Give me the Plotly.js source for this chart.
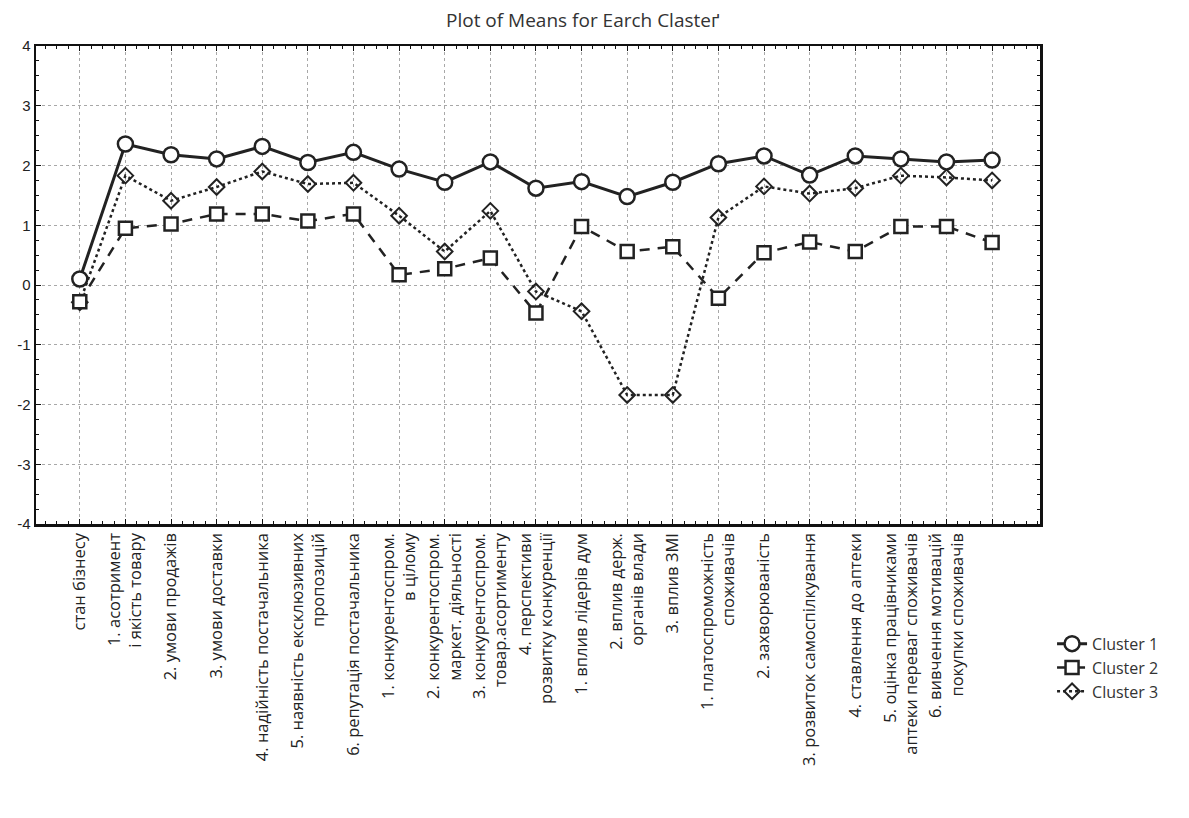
<!DOCTYPE html>
<html>
<head>
<meta charset="utf-8">
<script src="https://cdn.plot.ly/plotly-3.0.1.min.js"></script>
<style>html,body{margin:0;padding:0;background:#fff;}#chart{width:1189px;height:818px;}</style>
</head>
<body>
<div id="chart"></div>
<script>
const categories = [
  "стан бізнесу",
  "1. асотримент<br>і якість товару",
  "2. умови продажів",
  "3. умови доставки",
  "4. надійність постачальника",
  "5. наявність ексклюзивних<br>пропозицій",
  "6. репутація постачальника",
  "1. конкурентоспром.<br>в цілому",
  "2. конкурентоспром.<br>маркет. діяльності",
  "3. конкурентоспром.<br>товар.асортименту",
  "4. перспективи<br>розвитку конкуренції",
  "1. вплив лідерів дум",
  "2. вплив держ.<br>органів влади",
  "3. вплив ЗМІ",
  "1. платоспроможність<br>споживачів",
  "2. захворюваність",
  "3. розвиток самоспілкування",
  "4. ставлення до аптеки",
  "5. оцінка працівниками<br>аптеки переваг споживачів",
  "6. вивчення мотивацій<br>покупки споживачів",
  ""
];
const positions = [0,1,2,3,4,5,6,7,8,9,10,11,12,13,14,15,16,17,18,19,20];
const cluster1 = [0.10, 2.36, 2.18, 2.11, 2.32, 2.05, 2.22, 1.94, 1.72, 2.06, 1.62, 1.73, 1.48, 1.72, 2.03, 2.16, 1.84, 2.16, 2.11, 2.06, 2.09];
const cluster2 = [-0.28, 0.95, 1.02, 1.19, 1.19, 1.07, 1.19, 0.17, 0.27, 0.45, -0.47, 0.98, 0.56, 0.64, -0.22, 0.54, 0.72, 0.56, 0.98, 0.98, 0.71];
const cluster3 = [-0.29, 1.83, 1.41, 1.64, 1.90, 1.69, 1.71, 1.16, 0.56, 1.24, -0.11, -0.44, -1.84, -1.84, 1.13, 1.65, 1.53, 1.62, 1.83, 1.80, 1.75];
const seriesNames = ["Cluster 1", "Cluster 2", "Cluster 3"];
const yTickVals = [-4,-3,-2,-1,0,1,2,3,4];
const yTickText = ["-4","-3","-2","-1","0","1","2","3","4"];

const traces = [
  {x: positions, y: cluster3, name: seriesNames[2], type: 'scatter', mode: 'lines+markers',
   line: {color: '#222', width: 2.5, dash: 'dot'},
   marker: {symbol: 'diamond-open', size: 12, color: '#222', line: {width: 2}}},
  {x: positions, y: cluster2, name: seriesNames[1], type: 'scatter', mode: 'lines+markers',
   line: {color: '#222', width: 2.5, dash: '10px,8px'},
   marker: {symbol: 'square', size: 13, color: '#fff', line: {width: 2.5, color: '#222'}}},
  {x: positions, y: cluster1, name: seriesNames[0], type: 'scatter', mode: 'lines+markers',
   line: {color: '#222', width: 3},
   marker: {symbol: 'circle', size: 15, color: '#fff', line: {width: 2.5, color: '#222'}}}
];

const layout = {
  width: 1189, height: 818,
  paper_bgcolor: '#fff', plot_bgcolor: '#fff',
  margin: {l: 36, r: 149, t: 46, b: 294},
  title: {text: 'Plot of Means for Earch Clasteґ', x: 0.49, xref: 'container', y: 0.975, yanchor: 'middle',
          font: {family: 'Open Sans', size: 19, color: '#333'}},
  showlegend: true,
  legend: {x: 1.012, y: -0.215, xanchor: 'left', yanchor: 'top', traceorder: 'reversed',
           font: {family: 'Open Sans', size: 16, color: '#333'}, bgcolor: 'rgba(0,0,0,0)',
           tracegroupgap: 0, itemwidth: 30},
  xaxis: {
    range: [-0.96, 21.05], tickmode: 'array', tickvals: positions, ticktext: categories,
    tickangle: -90, tickfont: {family: 'Open Sans', size: 16.5, color: '#222'},
    showgrid: true, gridcolor: '#a8a8a8', griddash: 'dot', gridwidth: 1,
    zeroline: false, showline: true, linecolor: '#111', linewidth: 2.5, mirror: 'allticks',
    ticks: 'inside', ticklen: 5, tickcolor: '#111',
    minor: {tickmode: 'linear', tick0: 0, dtick: 0.25, ticks: 'inside', ticklen: 3, tickcolor: '#111', showgrid: false}
  },
  yaxis: {
    range: [-4, 4], tickmode: 'array', tickvals: yTickVals, ticktext: yTickText,
    tickfont: {family: 'Liberation Sans', size: 15, color: '#222'},
    showgrid: true, gridcolor: '#a8a8a8', griddash: 'dot', gridwidth: 1,
    zeroline: false, showline: true, linecolor: '#111', linewidth: 2.5, mirror: 'allticks',
    ticks: 'inside', ticklen: 5, tickcolor: '#111',
    minor: {tickmode: 'linear', tick0: 0, dtick: 0.25, ticks: 'inside', ticklen: 3, tickcolor: '#111', showgrid: false}
  }
};

Plotly.newPlot('chart', traces, layout, {displayModeBar: false, staticPlot: true});
</script>
</body>
</html>
